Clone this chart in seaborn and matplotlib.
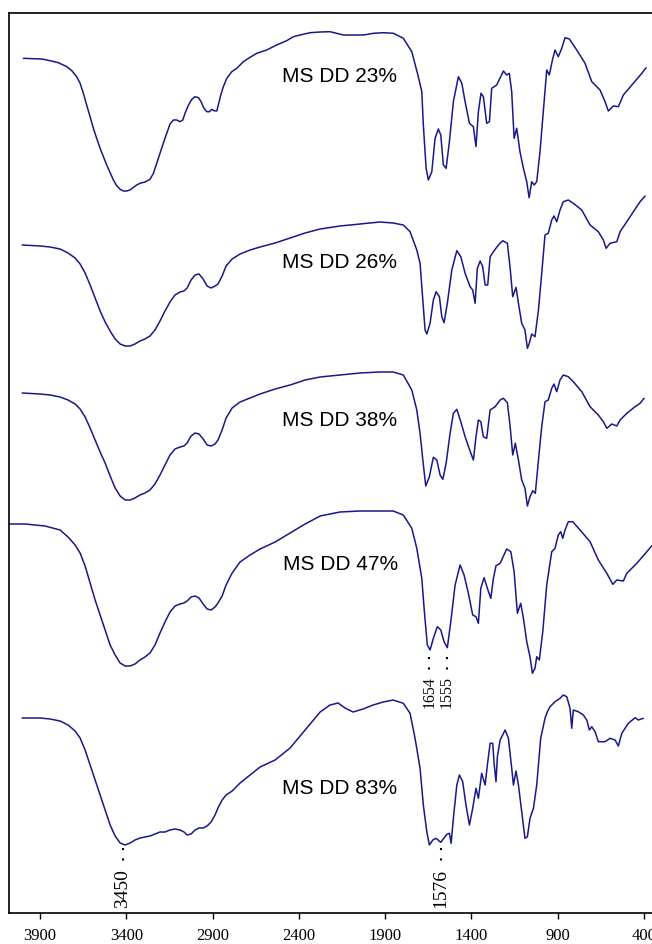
import matplotlib
matplotlib.use("Agg")
import matplotlib.pyplot as plt
import seaborn as sns
import pandas as pd

# ---------------- data (wavenumber cm-1, offset transmittance a.u.) ----------------
# MS DD 23%
wn_23 = [3997, 3890, 3842, 3794, 3745, 3716, 3688, 3668, 3649, 3630, 3610, 3591, 3572, 3552, 3533, 3514,
         3494, 3475, 3456, 3436, 3417, 3398, 3379, 3359, 3340, 3321, 3292, 3263, 3243, 3224, 3205, 3185,
         3166, 3147, 3127, 3108, 3089, 3073, 3060, 3040, 3021, 3002, 2982, 2967, 2953, 2934, 2919, 2905,
         2892, 2876, 2867, 2853, 2838, 2818, 2789, 2760, 2722, 2683, 2644, 2587, 2529, 2471, 2432, 2393,
         2335, 2277, 2220, 2181, 2142, 2084, 2026, 1968, 1910, 1852,
         1795, 1746, 1708, 1688, 1679, 1663, 1650, 1630, 1611, 1592,
         1578, 1563, 1547, 1528, 1505, 1476, 1456, 1437, 1412, 1389, 1374, 1360, 1345, 1331, 1312, 1296,
         1283, 1254, 1215, 1196, 1181, 1167, 1153, 1138, 1119, 1099, 1080, 1066, 1051, 1037, 1022, 1003,
         984, 964, 949, 931, 916, 897, 877, 858, 833, 790, 742, 703, 655, 626, 607, 578, 549, 520, 462,
         413, 388]
t_23 = [854.7, 854, 852.3, 850.3, 846.3, 842.3, 836.3, 829.7, 819.7, 808, 796.3, 784.7, 774.7, 764.7, 756.3, 748,
        740.3, 733, 727.3, 723.7, 722, 722, 723, 725.7, 728, 729.7, 731, 733.7, 739.7, 749.7, 759.7, 770.3,
        779.7, 789, 793, 793, 791.3, 793, 799.7, 808, 813.7, 816.3, 815.3, 811.3, 805.7, 801.3, 801.3, 803.7,
        802.3, 802, 808, 818, 826.3, 834.7, 841.3, 844.7, 851.3, 855.7, 859.7, 863, 868, 872.3, 876.3, 878,
        880.3, 881, 881.3, 879.7, 878, 878, 878, 879.7, 880.3, 879.7,
        874.7, 861.3, 836.3, 821.3, 788, 744.7, 733, 741.3, 774.7, 784,
        778, 748, 744.7, 771.3, 811.3, 836.3, 829.7, 811.3, 789.7, 786.3, 766.3, 801.3, 819.7, 816.3, 789.7, 791.3,
        824.7, 828, 842, 838, 839.7, 821.3, 774.7, 784.7, 761.3, 744.7, 731.3, 715.3, 731.3, 728, 731.3, 761.3,
        801.3, 843, 838, 853, 863, 856.3, 864.7, 875.3, 874, 863, 849.7, 831.3, 823, 811.3, 802, 807, 806.3, 818, 829.7,
        839.7, 845.3]

# MS DD 26%
wn_26 = [4004, 3900, 3842, 3784, 3738, 3697, 3668, 3639, 3610, 3581, 3552, 3523, 3494, 3465, 3436, 3407,
         3378, 3350, 3321, 3292, 3263, 3234, 3205, 3176, 3147, 3118, 3089, 3066, 3048, 3025, 3002, 2979,
         2955, 2932, 2909, 2886, 2869, 2845, 2822, 2787, 2741, 2683, 2625, 2538, 2451, 2364, 2277, 2162,
         2046, 1930, 1854,
         1795, 1756, 1717, 1698, 1685, 1669,
         1659, 1640, 1621, 1605, 1586, 1572, 1559, 1540, 1514, 1485, 1462, 1437, 1408, 1393, 1379, 1366,
         1350, 1335, 1321, 1306, 1292, 1273, 1244, 1219, 1192, 1176, 1161, 1142, 1128, 1109, 1090, 1076,
         1065, 1051, 1032, 1012, 993, 974, 955, 935, 922, 906, 887, 868, 839, 810, 761, 713, 665, 636,
         620, 597, 558, 539, 500, 462, 423, 394]
t_26 = [668, 667, 666, 664, 660, 655, 649, 640, 628, 615, 602, 591, 582, 574, 569, 567,
        567, 569, 572, 574, 577, 583, 592, 602, 611, 618, 621, 622, 625, 633, 638, 639,
        634, 627, 625, 627, 629, 637, 647, 654, 659, 663, 666, 670, 675, 680, 684, 687,
        689, 691, 690,
        688, 681.3, 663, 649.7, 619.7, 583,
        579, 589.7, 613, 621.3, 616.3, 596.3, 590.3, 609.7, 643, 662.3, 656.3, 639.7, 626.3, 623, 609.7, 644.7,
        652, 646.3, 628, 628, 656.3, 661.3, 668, 672.3, 669.7, 644.7, 616.3, 625.7, 609.7, 589.7, 583, 564.7,
        569.7, 579, 576.3, 603, 639.7, 678, 679.7, 693, 697, 691.3, 703, 711.3, 713, 709.7, 703, 688, 681.3, 673,
        664.7, 669.7, 671.3, 681.3, 691.3, 701.3, 711.3, 717]

# MS DD 38%
wn_38 = [4004, 3900, 3842, 3784, 3738, 3697, 3668, 3639, 3610, 3581, 3552, 3523, 3494, 3465, 3436, 3407,
         3378, 3350, 3321, 3292, 3263, 3234, 3205, 3176, 3147, 3118, 3089, 3066, 3048, 3025, 3002, 2979,
         2955, 2932, 2909, 2886, 2869, 2845, 2822, 2787, 2741, 2683, 2625, 2538, 2451, 2364, 2277, 2162,
         2046, 1930, 1854,
         1795, 1746, 1717, 1698, 1682, 1665, 1644, 1621,
         1601, 1582, 1566, 1547, 1524, 1505, 1485, 1462, 1437, 1412, 1389, 1374, 1360, 1346, 1331, 1312,
         1292, 1263, 1234, 1215, 1192, 1176, 1161, 1146, 1128, 1109, 1090, 1076, 1061, 1045, 1030, 1012,
         993, 974, 955, 935, 922, 906, 887, 868, 839, 810, 761, 713, 665, 636, 616, 587, 558, 539, 500,
         452, 423, 400]
t_38 = [520, 519, 518, 516, 513, 509, 504, 496, 485, 473, 461, 450, 437, 425, 417, 413,
        413, 415, 418, 420, 423, 429, 438, 448, 458, 464, 466, 467, 470, 477, 480, 479,
        474, 468, 467, 469, 473, 483, 495, 505, 511, 515, 519, 524, 528, 533, 536, 538,
        540, 541, 541,
        538, 523, 503, 479.7, 453, 427, 436.3, 455.7,
        453, 438, 433.7, 449.7, 479.7, 499.7, 503.7, 491.3, 476.3, 463.7, 453, 476.3, 493, 491.3, 476.3, 474.7,
        503, 506.3, 513, 514.7, 510.3, 486.3, 458, 469.7, 453, 433, 424.7, 407, 416.3, 422.3, 419.7, 453,
        486.3, 511.3, 513, 524.7, 529, 521.3, 533, 538, 536.3, 531.3, 521.3, 506.3, 498, 491.3, 484.7, 489, 487, 493, 499.7,
        506.3, 509.7, 514.7]

# MS DD 47%
wn_47 = [4080, 3987, 3871, 3784, 3738, 3697, 3668, 3639, 3610, 3581, 3552, 3523, 3494, 3465, 3436, 3407,
         3378, 3350, 3321, 3292, 3263, 3234, 3205, 3176, 3147, 3118, 3089, 3066, 3048, 3025, 3002, 2979,
         2955, 2932, 2909, 2886, 2869, 2845, 2822, 2787, 2741, 2683, 2625, 2538, 2451, 2364, 2277, 2162,
         2046, 1930, 1854,
         1795, 1746, 1717, 1688, 1673, 1656, 1640,
         1621, 1598, 1578, 1559, 1540, 1520, 1495, 1466, 1443, 1418, 1393, 1374, 1360, 1346, 1327, 1308,
         1288, 1273, 1258, 1234, 1196, 1172, 1153, 1134, 1115, 1099, 1080, 1061, 1047, 1032, 1022, 1007,
         987, 964, 935, 916, 897, 883, 871, 858, 839, 813, 771, 713, 665, 616, 581, 558, 520, 500, 442,
         384, 355]
t_47 = [389, 389, 387, 383, 376, 368, 360, 347, 330, 313, 298, 283, 268, 258, 250, 247,
        247, 249, 253, 256, 260, 268, 280, 291, 301, 307, 309, 310, 312, 316, 317, 315,
        309, 304, 303, 306, 310, 317, 328, 340, 351, 358, 364, 371, 380, 389, 397, 401,
        402, 402, 402,
        398, 384.7, 364.7, 334.7, 301.3, 268, 263,
        274.7, 286.3, 283, 271.3, 265.3, 291.3, 328, 348, 338, 319.7, 298, 296.3, 289.7, 324.7, 335.3, 324.7,
        314.7, 334.7, 347.3, 349.7, 364, 361.3, 341.3, 299.7, 309.7, 294.7, 271.3, 256.3, 239.7, 244.7, 256.3, 253,
        281.3, 328, 361.3, 364.7, 378, 381.3, 374.7, 383, 391.3, 391.3, 383, 371.3, 353, 339.7, 328.7, 333, 332, 339.7, 349.7,
        361.3, 367.3]

# MS DD 83%
wn_83 = [4004, 3900, 3842, 3784, 3738, 3697, 3668, 3639, 3610, 3581, 3552, 3523, 3494, 3465, 3436, 3407,
         3378, 3350, 3321, 3292, 3263, 3234, 3205, 3176, 3147, 3118, 3089, 3066, 3048, 3025, 3002, 2979,
         2955, 2932, 2909, 2886, 2869, 2845, 2822, 2787, 2741, 2683, 2625, 2538, 2451, 2364, 2277,
         2220, 2173, 2133, 2086, 2028, 1970, 1912, 1854,
         1795, 1756, 1727, 1698, 1679, 1659, 1644, 1624,
         1605, 1578, 1543, 1528, 1518, 1505, 1485, 1470, 1451, 1432, 1412, 1393, 1374, 1360, 1341, 1321,
         1308, 1292, 1277, 1269, 1258, 1250, 1234, 1205, 1186, 1167, 1157, 1142, 1128, 1109, 1090, 1076,
         1061, 1041, 1022, 999, 974, 960, 945, 916, 887, 868, 848, 829, 819, 810, 781, 752, 732, 717, 703,
         684, 665, 626, 597, 568, 549, 529, 491, 452, 433, 404]
t_83 = [195, 195, 194, 192, 188, 182, 175, 163, 148, 133, 118, 103, 88, 77, 70, 68,
        70, 73, 75, 76, 77, 79, 81, 81, 83, 84, 83, 81, 78, 79, 83, 85,
        85, 87, 91, 98, 105, 113, 118, 122, 130, 138, 146, 153, 165, 183, 201,
        208, 210, 205, 201, 204, 208, 211, 213,
        209.7, 199.7, 174.7, 144.7, 108, 81.3, 68, 73,
        74.7, 70.7, 78.7, 79.7, 69.7, 94.7, 128, 138, 131.3, 108, 88, 104.7, 124.7, 114.7, 139.7, 128,
        148, 169.7, 169.7, 149.7, 131.3, 156.3, 173, 183, 174.7, 144.7, 128, 142, 128, 101.3, 74.7, 76.3,
        94.7, 104.7, 128, 174.7, 194.7, 201.3, 206.3, 211.3, 214.7, 218, 216.3, 204.7, 184.7, 203, 201.3, 198, 193, 183, 186.3,
        181.3, 171.3, 171.3, 174.7, 173, 167, 179.7, 189.7, 195.3, 193, 194.7]

series_names = ["MS DD 23%", "MS DD 26%", "MS DD 38%", "MS DD 47%", "MS DD 83%"]
label_wn = [2167, 2167, 2167, 2156, 2167]
label_t = [837, 650, 492, 348, 125]

tick_values = [3900, 3400, 2900, 2400, 1900, 1400, 900, 400]

# peak annotations
ann_text = ["3450", "1576", "1654", "1555"]
ann_wn = [3421, 1578, 1644, 1543]
ann_y0 = [65, 65, 256, 256]
ann_y1 = [47, 47, 240, 240]
ann_ytext = [44, 44, 237, 237]
ann_size = [14, 14, 11.5, 11.5]

# ---------------- plotting ----------------
sns.set_theme(style="white")
plt.rcParams["font.family"] = ["Liberation Sans", "DejaVu Sans"]

fig = plt.figure(figsize=(6.52, 9.44), dpi=100)
ax = fig.add_axes([9 / 652, 31 / 944, 1 - 9 / 652, 900 / 944])

line_color = "#18188c"
all_wn = [wn_23, wn_26, wn_38, wn_47, wn_83]
all_t = [t_23, t_26, t_38, t_47, t_83]
for wn, t in zip(all_wn, all_t):
    df = pd.DataFrame({"wn": wn, "t": t})
    sns.lineplot(data=df, x="wn", y="t", ax=ax, color=line_color, linewidth=1.1,
                 estimator=None, sort=False, legend=False)

for name, lw_, lt in zip(series_names, label_wn, label_t):
    ax.text(lw_, lt, name, ha="center", va="center", fontsize=15,
            family=["Liberation Sans", "DejaVu Sans"], color="black")

for txt, w, y0, y1, yt, fs in zip(ann_text, ann_wn, ann_y0, ann_y1, ann_ytext, ann_size):
    ax.plot([w, w], [y0, y1], color="black", linestyle=(0, (1, 4)), linewidth=1.5)
    ax.text(w, yt, txt, rotation=90, ha="center", va="top", fontsize=fs,
            family=["Liberation Serif", "DejaVu Serif"], color="black")

ax.set_xlim(4080, 354)
ax.set_ylim(0, 900)
ax.set_xticks(tick_values)
ax.set_xticklabels([str(v) for v in tick_values], fontsize=12,
                   family=["Liberation Serif", "DejaVu Serif"])
ax.set_yticks([])
ax.set_xlabel("")
ax.set_ylabel("")
ax.tick_params(axis="x", bottom=True, direction="out", length=4.5, width=1.0,
               color="black", pad=6, labelcolor="black")

for side in ["left", "top", "bottom"]:
    ax.spines[side].set_visible(True)
    ax.spines[side].set_color("black")
    ax.spines[side].set_linewidth(1.2)
ax.spines["right"].set_visible(False)

fig.savefig("out.png", dpi=100)
